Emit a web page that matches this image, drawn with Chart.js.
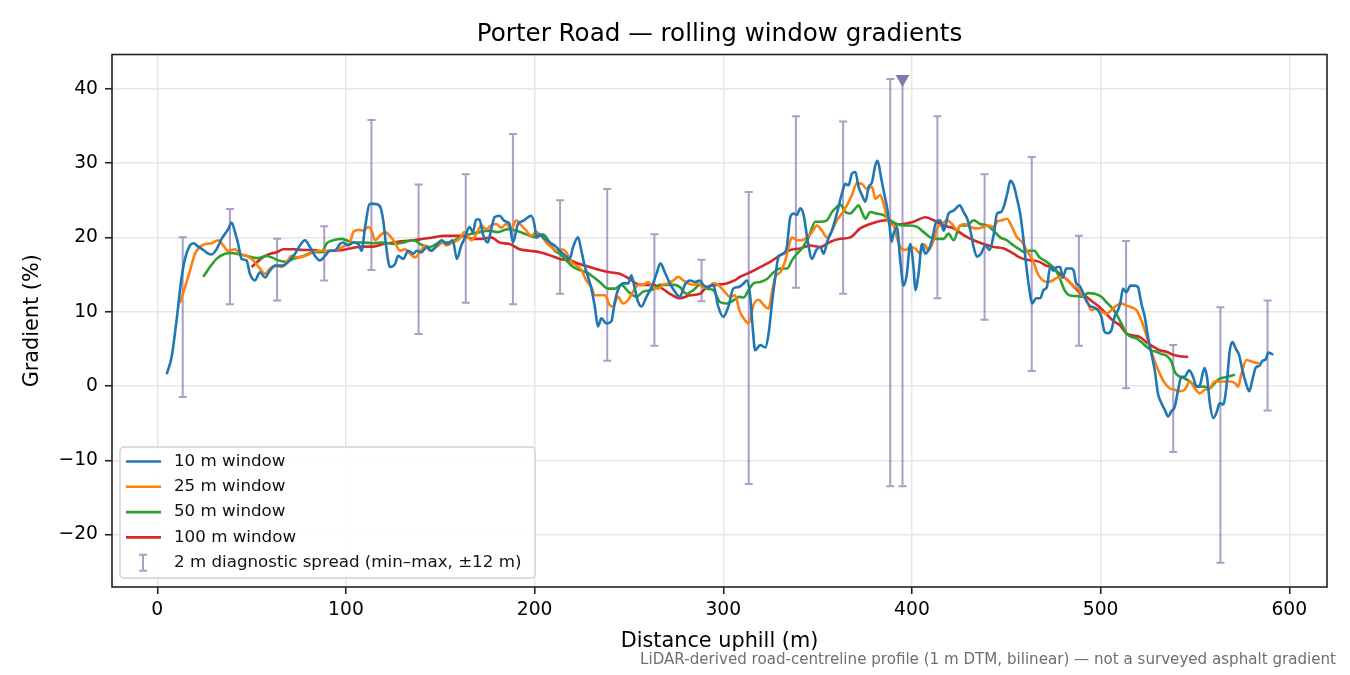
<!DOCTYPE html>
<html>
<head>
<meta charset="utf-8">
<script src="https://cdn.jsdelivr.net/npm/chart.js@4.4.1/dist/chart.umd.min.js"></script>
<style>
  html, body { margin: 0; padding: 0; background: #fff; }
  #wrap { width: 1350px; height: 675px; }
</style>
</head>
<body>
<div id="wrap"><canvas id="grad" width="1350" height="675"></canvas></div>
<script>
// ---- data ----
const x10 = [5,7.6,10.2,12.9,14.7,17.3,19.1,21.7,24.4,27,28.8,31.4,34.1,37.6,39.4,41.2,42.9,44.7,47.3,49.1,51.8,54.4,57.1,59.7,62.4,66.8,69.4,73,75.6,78.3,80.9,83.6,86.2,88.9,91.5,94.2,96.8,98.6,101.2,103.9,106.5,108.3,110.1,112.7,115.4,118,119.8,121.6,123.3,126,127.7,130.4,133,135.7,137.5,140.1,142.8,145.4,148,150.7,153.4,156.6,158.8,161.1,162.8,165.5,167.3,169,170.8,172.6,175.2,177,178.8,181.4,184.1,186.7,188.5,191.2,193.8,196.5,198.2,200,200.9,202.7,205.3,208,210.6,213.3,216,218.6,220.4,223,224.8,226.5,228.3,230.1,231.9,233.6,235.4,238.1,240.7,242.5,244.2,246.9,249.6,251.3,253.1,254.9,256.6,259.3,262,264.6,266.7,269,271.7,274.3,277,279.6,282.3,284.9,287.6,289.4,292,294.7,297.3,300,302.7,305.3,308,310.8,312.5,314.3,315.7,316.9,319.6,322.3,324,325.8,327.6,329.3,332,333.7,335.5,337.3,339,340.8,342.6,344.7,347,349.3,351.4,353.2,355.3,357.6,360.2,362.9,364.7,366.4,368.2,370,371.7,373.5,375.3,377.1,378.8,380.6,381.8,383.6,385.3,387.1,388.2,389.2,390.3,392,393.8,395.6,397.3,399.1,400.9,401.8,403.5,405.3,407.1,408.8,410.6,412.9,415,416.8,419.4,422.1,425.3,427.4,429.6,431.3,432.7,434.5,436.6,438.9,441.2,443.3,445.1,447.2,448.9,450.7,452.1,453.9,455.7,457.5,459,460.5,462.3,463.7,465.8,468,469.7,471.5,473.3,475,476.8,478.6,480,481.8,484.4,485.7,487.1,488.8,490.6,492.4,494.2,496.3,498.6,500.4,502.1,503.9,505.7,507.4,509.2,510.4,511.9,513.6,515.9,518.1,519.8,521.6,523.4,525.1,526.9,528.7,530.4,532.2,534,535.8,537.5,539.3,541.1,542.8,544.6,546.9,549,550.8,552.6,554.3,555.2,556.5,557.9,559.7,561.4,563.2,565,566.7,568.5,569.9,571.7,573.5,575.2,577,578.8,580.5,582.3,584.1,585.8,587.6,588.8,590.1,591.5];
const y10 = [1.6,3.9,8.8,14.6,17.1,18.9,19.2,18.75,18.3,17.8,17.7,18.4,19.8,21.1,22,20.7,19.1,17.1,16.9,15.1,14.2,15.3,14.6,15.5,16.2,16.2,16.7,17.8,18.9,19.6,18.7,17.5,16.9,17.5,18.2,18.2,19.1,19.3,18.9,19.3,19.1,18.2,21.3,24.5,24.5,24.2,22.2,18.2,16,16.4,17.5,17.1,18.2,17.8,18.2,18,18.7,18.2,18.9,19.6,19.1,19.6,17.1,18.9,19.8,21.4,20.7,22.4,22.4,20.4,19.3,21.1,22.7,22.9,22.2,21.8,19.3,21.8,22.2,22.7,22.9,21.6,20,20.4,19.8,19.3,18.9,18.2,17.6,17.1,18.7,20,18.2,16.2,14.7,13.1,10.7,8,9.1,8.4,8.7,11.3,12.9,13.8,13.8,14.9,13.1,11.3,10.7,12,13.3,15.1,16.5,15.3,13.8,12.7,12,13.6,14.2,14,14.2,13.6,13.3,13.6,10.7,9.3,10.7,13.1,13.3,13.8,14.2,12,7.5,4.8,5.5,5.2,7,11.1,14.7,17.4,17.8,18.7,22.7,23.2,23,23.9,23,19.6,17.1,18.3,18.7,17.8,19.6,20.9,23.2,25.9,27.2,27,28.6,28.8,26.8,25.7,24.8,26.8,27.4,29.7,30.3,28.1,25.9,23.6,21.4,19.4,20.5,21.4,16.9,13.5,15.1,19.1,15.8,12.9,15.1,19.1,17.8,18.3,19.6,22.1,22.3,20.9,23.2,23.6,24.3,23.4,22.3,20.5,18.7,17.4,17.8,18.9,18.3,20.3,23.2,23.4,24.3,26.1,27.6,27,25.2,23,20,16.4,12.9,11.1,11.8,11.8,12.9,13.3,16,15.5,16,16,14.6,15.8,15.8,15.5,13.8,13.5,12.6,11.5,10.8,10.6,10.2,9.3,7.3,7.1,7.5,9.3,10.2,11.1,13.1,12.6,13.5,13.5,13.3,11.1,9.3,6.6,4.4,2.1,-1,-2.3,-3.2,-4.1,-3.4,-2.8,-0.5,1.25,1.25,2.1,1.25,-0.1,0.1,1.9,2.4,1,-2.3,-4.3,-3.6,-2.3,-2.5,-0.1,4.8,5.9,5,4.1,2.1,0.4,-0.7,0.9,2.5,2.7,3.4,3.6,4.5,4.4,4.2];

const x25 = [12,14.7,17.3,20,22.6,25.3,28.8,32.3,35,37.6,41.2,43.8,47.3,50.9,54.4,57.1,59.7,63.3,65.9,68.6,71.2,74.7,78.3,82.7,87.1,91.5,95.9,99.5,102.1,103.9,106.5,109.2,111.8,113.6,115.4,118,120.7,123.3,126,128.6,131.3,133.9,136.6,139.2,141.9,144.5,148,151.6,153.1,156.6,160.2,162.8,166.4,169,171.7,174.3,177,179.6,182.3,185,187.6,190.3,192.9,195.6,198.2,200.9,203.5,206.2,208.8,211.5,214.2,216.8,219.5,222.1,224.8,227.4,230.1,231.9,234.5,237.2,239.8,241.6,244.2,246.9,249.6,252.2,254.9,257.5,260.2,262.8,265.5,268.1,270.8,273.5,276.1,278.8,281.4,284.1,286.7,289.4,292,294.7,297.3,300,303.7,306.3,308.5,311.6,313.4,316,318.7,321.4,324,325.8,327.6,330.2,332.9,334.6,336.4,339,341.7,344.3,347,349.6,352.3,354.9,357.6,360.2,362.9,365.5,368.2,370.8,373.5,376.1,378.8,380.6,383.2,385,386.7,388.5,390.3,392,393.8,396.5,399.1,401.8,404.4,406.2,408.8,411.5,413.3,415.9,418.6,421.2,423.9,425.6,428.3,430.9,434.5,438,440.6,443.3,445.1,447.7,450.4,453,455.7,458.3,461.4,464.1,466.7,469.4,472,474.7,477.3,480,482.7,485.3,488,490.6,493.3,495,497.7,500.4,503,505.7,508.3,511,513.6,516.3,519,521.6,523.9,526,528.7,531.3,534,536.6,539.3,541.9,544.6,547.3,549.9,552.6,555.2,557.9,560.5,563.2,565.8,568.5,571.2,572.9,574.7,577.3,580,582.7,584.1];
const y25 = [11.2,13.3,15.5,17.8,18.7,19.1,19.2,19.6,18.9,18.2,18.4,17.8,17.5,16.9,15.8,15.1,15.8,16.2,16,16.7,17.5,17.3,17.5,18,18.2,18.2,18.4,18.9,19.3,20.7,21,20.9,21.4,20.9,19.6,20.2,20.7,20.2,19.3,18.2,18.4,17.8,17.3,18,18.9,18.2,18.7,19.3,18.9,19.3,19.8,20.7,19.6,20.4,21.6,21.1,21.6,21.8,21.3,21.8,21.1,22.3,21.6,20.9,20.2,20.7,20.2,19.3,18.7,18.2,18.4,18,16.7,16.2,15.6,14.2,13.3,12.2,12.2,12.2,10.9,10.7,12,11.1,11.6,12.7,13.6,13.6,14,13.3,13.1,13.6,13.8,14.2,14.7,14.2,13.8,13.6,13.8,13.3,13.3,13.8,13.6,12.9,12,12.2,10.2,8.8,8.4,10.9,11.6,10.9,10.4,12.6,14.7,15.3,16.9,18.7,20,19.6,19.6,20,20.7,21.6,20.9,20,20.9,22.3,23.2,24.3,25.7,27.3,27.2,26.5,26.8,25.2,25.7,24.5,22.7,21.8,21.6,20,18.7,18.3,18.7,18.5,17.8,19.1,18.3,19.6,21.2,21.8,22.3,21.8,21,21.6,21.8,21.4,21.2,21.4,21.6,21.4,22.1,22.3,22.5,21.4,20,19.4,18,16.9,15.1,14.2,14,14.2,14.6,14.6,14.2,13.5,13.1,12.2,11.1,10.2,10.4,10,9.7,10.2,10.8,11.1,10.8,10.6,10.2,8.8,7.1,5.3,3.3,1.7,0.4,-0.3,-0.5,-0.7,-0.5,0.6,-0.3,-1,-0.5,-0.3,0.6,0.6,0.6,0.6,0.4,-0.1,1.7,3.5,3.3,3.1,3.1];

const x50 = [24.4,27.9,31.4,35.9,39.4,43.8,49.1,53.5,57.9,61.5,64.1,68.6,72.1,77.4,82.7,87.1,89.8,93.3,97.7,101.2,104.8,109.2,114.5,119.8,125.1,130.4,135.7,140.1,144.5,149.8,154.9,160.2,165.5,170.8,176.1,180.5,185.8,190.3,195.6,200.9,204.4,208,210.6,213.3,216.8,220.4,223.9,227.4,231,234.5,238.9,242.5,246,249.6,254,257.5,262,266.4,270.8,274.3,277,280.5,284.1,287.6,291.2,294.7,298.2,301.8,305.3,308.8,310.8,313.4,316,319.6,323.2,326.7,330.2,333.8,336.4,339.1,341.7,345.2,348.8,352.3,355,357.6,360.2,362,364.7,367.3,370,371.7,373.5,375.3,377.9,381.4,385,388.5,392,395.6,399.1,402.7,406.2,409.7,413.3,416.8,419.4,422.1,425.6,429.2,432.7,436.2,439.8,443.3,446.8,450.4,453.9,457,459.6,462.3,464.9,467.6,470.3,472.9,475.6,478.2,480.9,483.5,487.1,490.6,493.3,496.8,500.4,503,505.7,508.3,511,513.6,516.3,519,521.6,524.2,526.9,529.6,532.2,534.8,537.5,539.3,541.9,544.6,547.3,549.9,552.6,555.2,557.9,560.5,563.2,566.7,571.2];
const y50 = [14.7,16,17.1,17.8,17.9,17.7,17.4,17.2,17.5,17.2,16.9,16.7,17.1,17.5,18,18,19.2,19.6,19.8,19.5,19.3,19.3,19.2,19.3,19.1,19.3,19.6,19,18.7,19.3,19.3,20,20.4,20.7,20.9,20.7,21.1,20.9,20.4,20,20.4,19.3,18.2,17.8,16.9,16,15.6,15.3,14.7,14,13.1,13.1,13.6,12.7,12,12.7,12.9,13.6,13.6,13.6,13.3,12.4,12.9,13.6,13.1,12.9,11.3,11.1,11.5,12,11.9,12.9,13.8,14,14.4,15.3,15.8,15.8,16.9,17.8,18.5,20,22.1,22.1,22.3,23.4,24.1,24.4,23.4,23.2,23.9,24.3,23.4,22.5,23.4,23.2,23,22.3,21.8,21.6,21.6,21.4,20.7,20,19.8,19.8,20.5,19.6,21.6,21.6,22.3,21.8,21.6,20.9,20,19.6,18.9,18.4,18,18.2,18.2,17.3,16.9,16.4,15.8,14.6,12.9,12.2,12.1,12,12.5,12.4,12,11.3,10.6,9.7,8.4,7.1,6.6,6.4,5.9,5.3,4.8,4.6,4.3,4.1,3.3,1.9,1.25,1,0.6,0.1,-0.1,-0.1,-0.3,0.4,1,1.2,1.5];

const x100 = [50,54.4,58.8,63.3,66.8,72.1,77.4,82.7,88,93.3,98.6,103.9,109.2,114.5,119.8,125.1,130.4,135.7,141,146.3,151.6,156.6,161.9,167.3,172.6,177,181.4,186.7,192,197.3,202.7,208,213.3,218.6,223.9,229.2,234.5,239.8,245.1,250.4,255.8,261.1,266.4,271.7,277,282.3,287.6,291.2,296.5,301.8,306,309,314.3,319.6,324.9,330.2,335.5,340.8,346.1,351.4,356.8,362,367.3,372.6,377.9,383.2,386.7,390.3,395.6,400.9,407.1,411.5,416.8,422.1,427.4,432.7,438,443.3,448.6,453.9,457,460.5,464.1,467.6,471.2,474.7,478.2,481.8,485.3,488.8,492.4,495.9,499.5,503,506.5,510.1,513.6,517.2,520.7,524.2,527.8,531.3,534.8,538.4,541.9,546.4];
const y100 = [16,17,17.7,18,18.4,18.4,18.3,18.3,18.1,18.2,18.3,18.6,18.75,18.75,19.1,19.3,19.5,19.6,19.8,20,20.2,20.2,20.2,19.8,19.8,20,19.3,19.1,18.4,18.2,18,17.6,17.1,16.9,16.4,16,15.6,15.3,15.1,14.4,13.6,13.6,13.3,12.4,11.8,12.2,12.4,13.3,13.6,13.8,14.2,14.7,15.3,16,16.7,17.6,18.3,18.5,18.9,18.7,19.4,19.8,20,21.2,21.8,22.2,22.3,21.7,21.8,22.1,22.7,22.3,21.6,21.2,20.3,19.6,19.1,18.7,18.5,17.8,17.3,17,16.9,16.7,16.2,15.9,15.1,14.4,13.5,12.6,12,11.3,10.6,9.7,8.8,8.2,7.1,6.8,6.6,5.9,5.3,4.8,4.6,4.2,4,3.9];

// 2 m diagnostic spread, min-max within +-12 m
const errX   = [13.5,38.5,63.5,88.5,113.5,138.5,163.5,188.5,213.5,238.5,263.5,288.5,313.5,338.5,363.5,388.5,395,413.5,438.5,463.5,488.5,513.5,538.5,563.5,588.5];
const errMax = [20,23.8,19.8,21.5,35.8,27.1,28.5,33.9,25,26.5,20.4,17,26.1,36.3,35.6,41.3,41.3,36.3,28.5,30.8,20.2,19.5,5.5,10.6,11.5];
const errMin = [-1.5,11,11.5,14.2,15.6,7,11.2,11,12.4,3.4,5.4,11.4,-13.2,13.2,12.4,-13.5,-13.5,11.8,8.9,2,5.4,-0.3,-8.9,-23.8,-3.3];

// steepest 2 m reading
const peakX = [395];
const peakY = [41.3];

const xTicks = [0, 100, 200, 300, 400, 500, 600];
const yTicks = [-20, -10, 0, 10, 20, 30, 40];

const FONT = "'DejaVu Sans', 'Liberation Sans', sans-serif";
const ERR_COL = "rgba(115,95,160,0.6)";

function pts(xs, ys) { return xs.map((x, i) => ({ x: x, y: ys[i] })); }
function minus(v) { return String(v).replace("-", "\u2212"); }

// ---- error bars (drawn under the lines) ----
const errorBars = {
    id: "errorBars",
    beforeDatasetsDraw(chart) {
        const { ctx, scales: { x, y } } = chart;
        ctx.save();
        ctx.strokeStyle = ERR_COL;
        ctx.lineWidth = 2;
        errX.forEach((d, i) => {
            const px = x.getPixelForValue(d);
            const top = y.getPixelForValue(errMax[i]);
            const bot = y.getPixelForValue(errMin[i]);
            ctx.beginPath();
            ctx.moveTo(px, top); ctx.lineTo(px, bot);
            ctx.moveTo(px - 4, top); ctx.lineTo(px + 4, top);
            ctx.moveTo(px - 4, bot); ctx.lineTo(px + 4, bot);
            ctx.stroke();
        });
        ctx.restore();
    }
};

// ---- frame, legend box and footnote ----
const extras = {
    id: "extras",
    afterDraw(chart) {
        const { ctx, chartArea: a } = chart;
        ctx.save();
        // spines
        ctx.strokeStyle = "#222";
        ctx.lineWidth = 1.6;
        ctx.strokeRect(a.left, a.top, a.right - a.left, a.bottom - a.top);

        // legend (lower left)
        const lx = a.left + 8, lw = 415, lh = 131, ly = a.bottom - 9 - lh;
        ctx.beginPath();
        ctx.roundRect(lx, ly, lw, lh, 4);
        ctx.fillStyle = "rgba(255,255,255,0.85)";
        ctx.fill();
        ctx.strokeStyle = "#d0d0d0";
        ctx.lineWidth = 1.4;
        ctx.stroke();

        ctx.font = "16.7px " + FONT;
        ctx.textBaseline = "middle";
        ctx.textAlign = "left";
        let row = ly + 14.5;
        chart.data.datasets.filter(ds => ds.inLegend).forEach(ds => {
            ctx.strokeStyle = ds.borderColor;
            ctx.lineWidth = 2.6;
            ctx.beginPath();
            ctx.moveTo(lx + 6, row); ctx.lineTo(lx + 41, row);
            ctx.stroke();
            ctx.fillStyle = "#111";
            ctx.fillText(ds.label, lx + 54, row);
            row += 25.3;
        });
        // error bar entry
        const ex = lx + 23;
        ctx.strokeStyle = ERR_COL;
        ctx.lineWidth = 2;
        ctx.beginPath();
        ctx.moveTo(ex, row - 8); ctx.lineTo(ex, row + 8);
        ctx.moveTo(ex - 4, row - 8); ctx.lineTo(ex + 4, row - 8);
        ctx.moveTo(ex - 4, row + 8); ctx.lineTo(ex + 4, row + 8);
        ctx.stroke();
        ctx.fillStyle = "#111";
        ctx.fillText("2 m diagnostic spread (min\u2013max, \u00b112 m)", lx + 54, row);

        // footnote
        ctx.font = "15.1px " + FONT;
        ctx.fillStyle = "#6e6e6e";
        ctx.textAlign = "right";
        ctx.fillText("LiDAR-derived road-centreline profile (1 m DTM, bilinear) \u2014 not a surveyed asphalt gradient", 1336, 660);
        ctx.restore();
    }
};

const lineDs = (label, xs, ys, color) => ({
    label: label,
    data: pts(xs, ys),
    borderColor: color,
    backgroundColor: color,
    borderWidth: 2.6,
    pointRadius: 0,
    cubicInterpolationMode: "monotone",
    inLegend: true
});

new Chart(document.getElementById("grad"), {
    type: "line",
    data: {
        datasets: [
            lineDs("10 m window", x10, y10, "#1f77b4"),
            lineDs("25 m window", x25, y25, "#ff7f0e"),
            lineDs("50 m window", x50, y50, "#2ca02c"),
            lineDs("100 m window", x100, y100, "#d62728"),
            {
                label: "peak",
                data: pts(peakX, peakY),
                showLine: false,
                pointStyle: "triangle",
                rotation: 180,
                pointRadius: 8,
                pointBorderWidth: 0,
                pointBackgroundColor: "#8878aa",
                borderColor: "#8878aa"
            }
        ]
    },
    options: {
        responsive: false,
        animation: false,
        devicePixelRatio: 1,
        layout: { padding: { top: 0, left: 0, right: 23, bottom: 18 } },
        plugins: {
            legend: { display: false },
            tooltip: { enabled: false },
            title: {
                display: true,
                fullSize: false,
                text: "Porter Road \u2014 rolling window gradients",
                color: "#000",
                font: { family: FONT, size: 24.6, weight: "normal" },
                padding: { top: 20, bottom: 5 }
            }
        },
        scales: {
            x: {
                type: "linear",
                min: -24,
                max: 620,
                afterBuildTicks: s => { s.ticks = xTicks.map(v => ({ value: v })); },
                afterFit: s => { s.height = 70; },
                border: { display: false },
                grid: { color: "#e6e6e6", lineWidth: 1.5, tickColor: "#222", tickLength: 7, tickWidth: 1.6 },
                ticks: { color: "#000", padding: 5, maxRotation: 0, font: { family: FONT, size: 18.7 }, callback: v => minus(v) },
                title: { display: true, text: "Distance uphill (m)", color: "#000", font: { family: FONT, size: 20.8 }, padding: { top: 0, bottom: 3 } }
            },
            y: {
                type: "linear",
                min: -27.05,
                max: 44.6,
                afterBuildTicks: s => { s.ticks = yTicks.map(v => ({ value: v })); },
                afterFit: s => { s.width = 112; },
                border: { display: false },
                grid: { color: "#e6e6e6", lineWidth: 1.5, tickColor: "#222", tickLength: 7, tickWidth: 1.6 },
                ticks: { color: "#000", padding: 7, font: { family: FONT, size: 18.7 }, callback: v => minus(v) },
                title: { display: true, text: "Gradient (%)", color: "#000", font: { family: FONT, size: 20.8 }, padding: { top: 20.5, bottom: 0 } }
            }
        }
    },
    plugins: [errorBars, extras]
});
</script>
</body>
</html>
